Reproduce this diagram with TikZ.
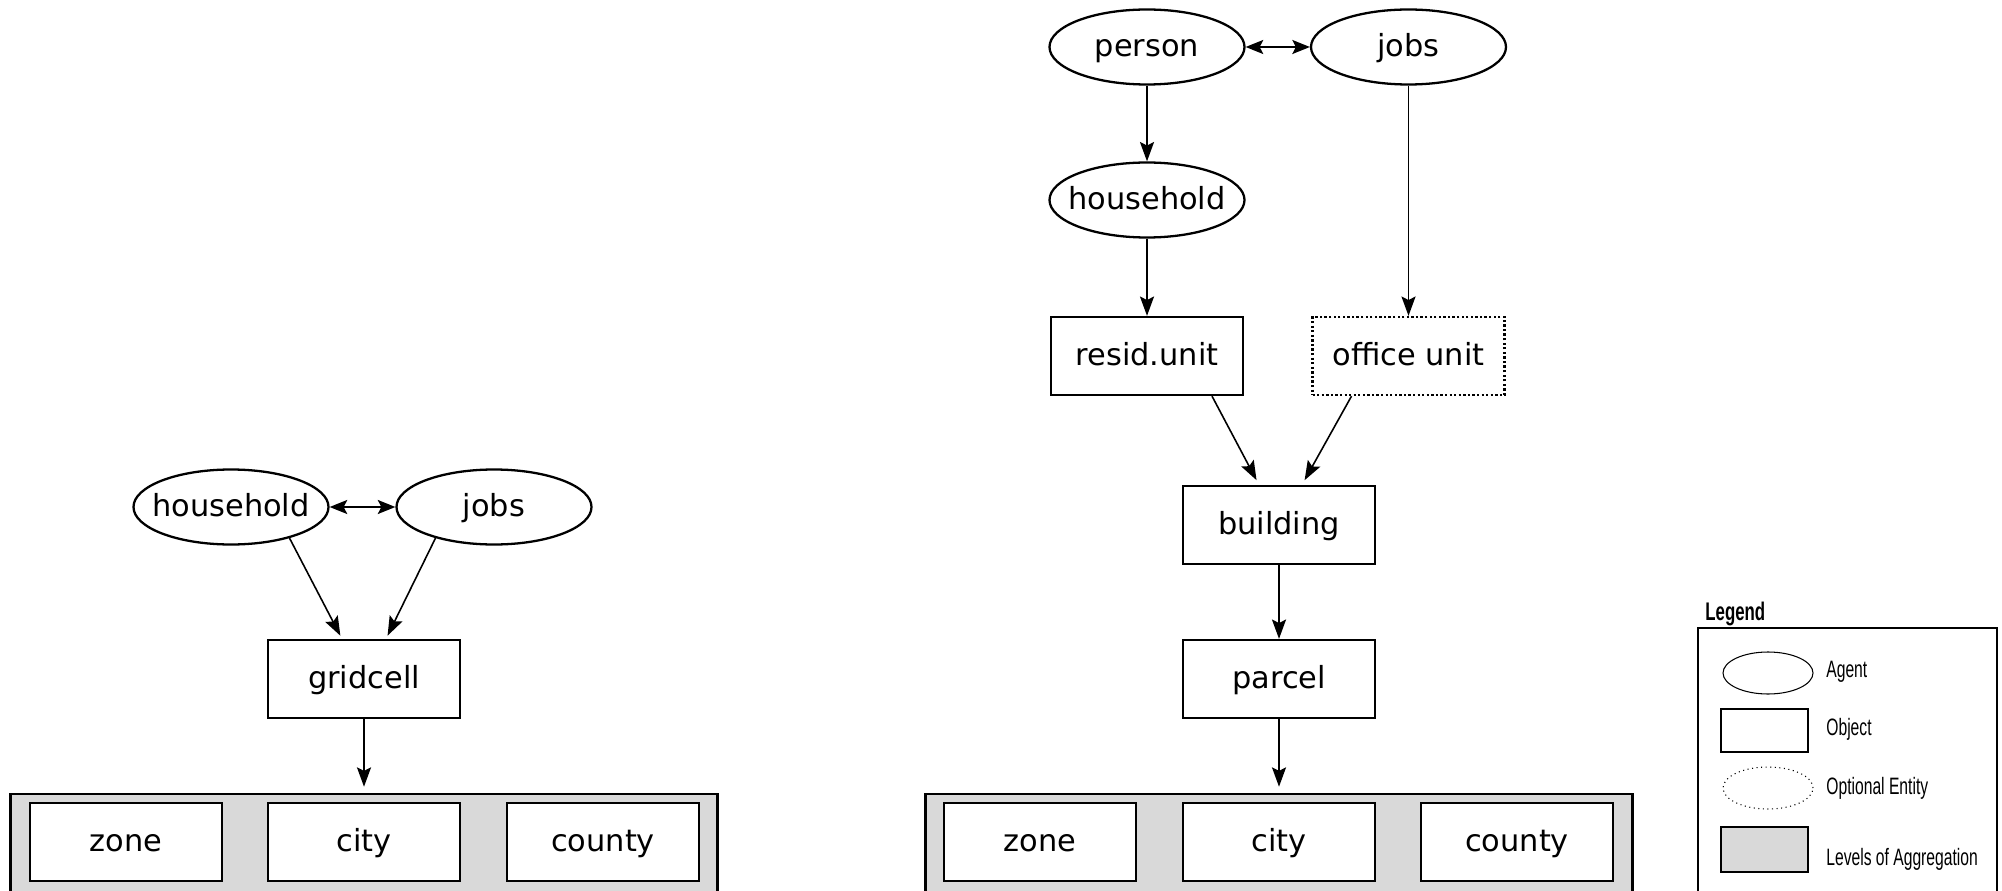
\documentclass[tikz,border=0pt]{standalone}
\usepackage{fontspec}
\setmainfont{DejaVu Sans}
\newfontfamily\legendfont[FakeStretch=0.66]{Liberation Sans}
\usetikzlibrary{arrows.meta,shapes.geometric}
\newcommand{\lbl}[1]{\makebox[0pt]{#1}}
\tikzset{
	agent/.style={ellipse, draw, fill=white, line width=1.3pt, minimum width=3.9cm, minimum height=1.5cm, inner sep=0pt, text height=1.1em, text depth=0pt, font=\fontsize{17.3}{20}\selectfont},
	object/.style={rectangle, draw, fill=white, line width=1.3pt, minimum width=3.84cm, minimum height=1.56cm, inner sep=0pt, text height=1.1em, text depth=0pt, font=\fontsize{17.3}{20}\selectfont},
	optional/.style={object, dash pattern=on 1.3pt off 1.3pt},
	levels/.style={rectangle, draw, line width=1.3pt, fill=black!15, minimum width=14.14cm, minimum height=2.6cm},
	link/.style={-{Stealth[length=11pt, width=8pt, inset=2pt]}, line width=0.9pt},
	twoway/.style={{Stealth[length=10pt, width=8pt, inset=2pt]}-{Stealth[length=10pt, width=8pt, inset=2pt]}, line width=0.9pt},
	legitem/.style={draw, line width=0.6pt, minimum width=1.74cm, minimum height=0.86cm, inner sep=0pt},
	legtext/.style={anchor=west, inner sep=0pt, font=\legendfont\fontsize{13.5}{15}\selectfont}
}

\begin{document}
\begin{tikzpicture}
				\clip (0,0) rectangle (40.04,17.8);
				% gridcell model
				\node [agent] (hh_a) at (4.62,7.66) {\lbl{household}};
				\node [agent] (jobs_a) at (9.88,7.66) {\lbl{jobs}};
				\node [object] (grid_a) at (7.28,4.22) {gridcell};
				\node [levels] (lvl_a) at (7.28,0.62) {};
				\node [object] (zone_a) at (2.52,0.96) {zone};
				\node [object] (city_a) at (7.28,0.96) {city};
				\node [object] (county_a) at (12.06,0.96) {county};
				\draw [twoway] (hh_a) -- (jobs_a);
				\draw [link, shorten >=2pt] (hh_a.-28) -- ([xshift=-0.44cm]grid_a.north);
				\draw [link, shorten >=2pt] (jobs_a.-152) -- ([xshift=0.44cm]grid_a.north);
				\draw [link, shorten >=3.5pt] (grid_a) -- (lvl_a);
				% parcel model
				\node [agent] (person_b) at (22.94,16.86) {\lbl{person}};
				\node [agent] (jobs_b) at (28.17,16.86) {\lbl{jobs}};
				\node [agent] (hh_b) at (22.94,13.8) {\lbl{household}};
				\node [object] (resid_b) at (22.94,10.68) {resid.unit};
				\node [optional] (office_b) at (28.17,10.68) {office unit};
				\node [object] (bldg_b) at (25.58,7.3) {building};
				\node [object] (parcel_b) at (25.58,4.22) {parcel};
				\node [levels] (lvl_b) at (25.58,0.62) {};
				\node [object] (zone_b) at (20.8,0.96) {zone};
				\node [object] (city_b) at (25.58,0.96) {city};
				\node [object] (county_b) at (30.34,0.96) {county};
				\draw [twoway] (person_b) -- (jobs_b);
				\draw [link] (person_b) -- (hh_b);
				\draw [link] (hh_b) -- (resid_b);
				\draw [link] (jobs_b) -- (office_b);
				\draw [link, shorten >=3pt] ([xshift=1.3cm]resid_b.south) -- ([xshift=-0.4cm]bldg_b.north);
				\draw [link, shorten >=3pt] ([xshift=-1.14cm]office_b.south) -- ([xshift=0.46cm]bldg_b.north);
				\draw [link] (bldg_b) -- (parcel_b);
				\draw [link, shorten >=3.5pt] (parcel_b) -- (lvl_b);
				% legend
				\node [anchor=west, inner sep=0pt, font=\legendfont\bfseries\fontsize{14.5}{16}\selectfont] (legtitle) at (34.1,5.52) {Legend};
				\node [draw, line width=0.9pt, minimum width=5.98cm, minimum height=5.6cm] (legbox) at (36.95,2.44) {};
				\node [legitem, ellipse, minimum width=1.8cm, minimum height=0.84cm] (leg_agent) at (35.36,4.34) {};
				\node [legitem] (leg_object) at (35.29,3.19) {};
				\node [legitem, ellipse, dotted, minimum width=1.8cm, minimum height=0.84cm] (leg_opt) at (35.36,2.04) {};
				\node [legitem, fill=black!15, minimum height=0.9cm] (leg_levels) at (35.29,0.81) {};
				\node [legtext] at (36.52,4.36) {Agent};
				\node [legtext] at (36.52,3.22) {Object};
				\node [legtext] at (36.52,2.04) {Optional Entity};
				\node [legtext] at (36.52,0.62) {Levels of Aggregation};
\end{tikzpicture}
\end{document}
